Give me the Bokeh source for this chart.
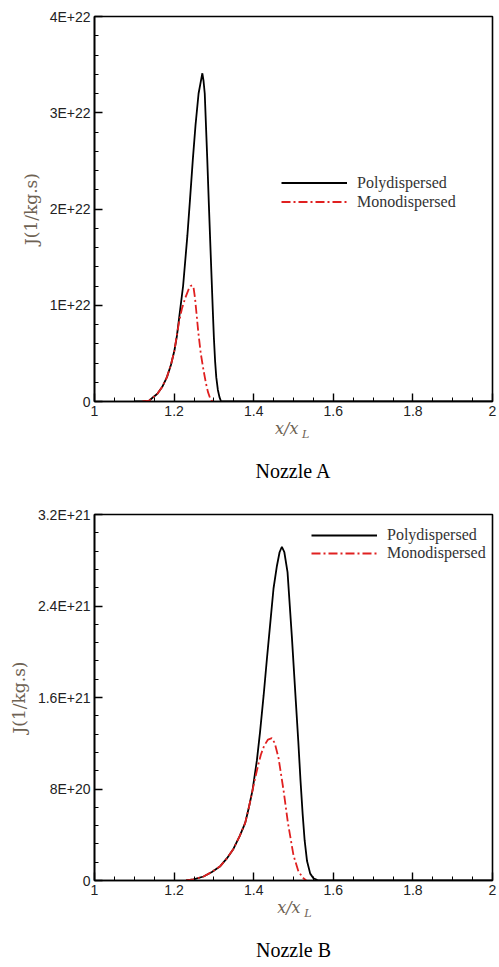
from bokeh.plotting import figure
from bokeh.layouts import column
from bokeh.models import Range1d, FixedTicker, Label, Legend, LegendItem, Title
from bokeh.embed import file_html
from bokeh.resources import INLINE

# Nozzle A: x/xL and J in units of 1E+22
poly_a_x = [1.10, 1.12, 1.1376, 1.158, 1.17, 1.182, 1.192, 1.2008, 1.207, 1.213, 1.2226,
            1.2333, 1.24, 1.247, 1.254, 1.2615, 1.266, 1.271, 1.274, 1.277, 1.2834, 1.2875,
            1.2916, 1.2972, 1.300, 1.303, 1.306, 1.310, 1.314, 1.318, 1.33, 2.0]
poly_a_y = [0.0, 0.0, 0.01, 0.08, 0.15, 0.253, 0.38, 0.53, 0.68, 0.88, 1.20,
            1.72, 2.10, 2.51, 2.88, 3.20, 3.30, 3.41, 3.33, 3.20, 2.51, 2.03,
            1.57, 0.95, 0.66, 0.42, 0.25, 0.12, 0.045, 0.0, 0.0, 0.0]
mono_a_x = [1.12, 1.1376, 1.158, 1.17, 1.182, 1.192, 1.2008, 1.207, 1.213, 1.22, 1.2284,
            1.237, 1.2415, 1.2454, 1.249, 1.2527, 1.2608, 1.267, 1.2737, 1.28, 1.285, 1.29,
            1.294, 1.297]
mono_a_y = [0.0, 0.01, 0.08, 0.15, 0.253, 0.38, 0.53, 0.69, 0.84, 0.97, 1.08,
            1.17, 1.20, 1.206, 1.18, 1.07, 0.72, 0.50, 0.33, 0.19, 0.10, 0.04,
            0.01, 0.0]

# Nozzle B: x/xL and J in units of 1E+21
poly_b_x = [1.23, 1.249, 1.274, 1.295, 1.316, 1.333, 1.349, 1.365, 1.3787, 1.388, 1.397,
            1.408, 1.416, 1.425, 1.433, 1.443, 1.4498, 1.4583, 1.465, 1.4708, 1.477, 1.485,
            1.496, 1.506, 1.512, 1.5175, 1.523, 1.528, 1.534, 1.542, 1.55, 1.56, 1.565, 2.0]
poly_b_y = [0.0, 0.01, 0.035, 0.075, 0.125, 0.195, 0.276, 0.39, 0.504, 0.64, 0.788,
            1.05, 1.30, 1.62, 1.93, 2.30, 2.553, 2.75, 2.87, 2.918, 2.87, 2.696,
            2.126, 1.557, 1.22, 0.88, 0.58, 0.35, 0.17, 0.06, 0.02, 0.003, 0.0, 0.0]
mono_b_x = [1.23, 1.249, 1.274, 1.295, 1.316, 1.333, 1.349, 1.365, 1.3787, 1.388, 1.397,
            1.404, 1.412, 1.418, 1.4264, 1.436, 1.4457, 1.453, 1.4623, 1.475, 1.486,
            1.50, 1.5126, 1.525, 1.532]
mono_b_y = [0.0, 0.01, 0.035, 0.075, 0.125, 0.195, 0.276, 0.39, 0.504, 0.64, 0.788,
            0.90, 1.02, 1.10, 1.18, 1.232, 1.244, 1.20, 1.073, 0.788, 0.504,
            0.219, 0.077, 0.02, 0.0]

x_ticks = [1.0, 1.2, 1.4, 1.6, 1.8, 2.0]
x_labels = ["1", "1.2", "1.4", "1.6", "1.8", "2"]
x_minor = [1 + 0.05 * i for i in range(21)]

ya_ticks = [0, 1, 2, 3, 4]
ya_labels = ["0", "1E+22", "2E+22", "3E+22", "4E+22"]
ya_minor = [0.2 * i for i in range(21)]

yb_ticks = [0, 0.8, 1.6, 2.4, 3.2]
yb_labels = ["0", "8E+20", "1.6E+21", "2.4E+21", "3.2E+21"]
yb_minor = [0.16 * i for i in range(21)]

series_names = ["Polydispersed", "Monodispersed"]
caption_names = ["Nozzle A", "Nozzle B"]

LABEL_COLOR = "#6e6253"
RED = "#e02020"


def make_panel(px, py, mx, my, yticks, ylabels, yminor, ytop, caption, dims, places):
    w, h, bl, br, bt, bb = dims
    p = figure(width=w, height=h, output_backend="svg", toolbar_location=None,
               x_range=Range1d(1, 2), y_range=Range1d(0, ytop),
               min_border_left=bl, min_border_right=br, min_border_top=bt, min_border_bottom=bb)
    p.grid.visible = False
    p.outline_line_color = "black"
    p.outline_line_width = 1.6

    p.xaxis.ticker = FixedTicker(ticks=x_ticks, minor_ticks=x_minor)
    p.xaxis.major_label_overrides = dict(zip(x_ticks, x_labels))
    p.yaxis.ticker = FixedTicker(ticks=yticks, minor_ticks=yminor)
    p.yaxis.major_label_overrides = dict(zip(yticks, ylabels))
    for ax in (p.xaxis[0], p.yaxis[0]):
        ax.axis_line_width = 1.6
        ax.major_tick_in = 8
        ax.major_tick_out = 0
        ax.minor_tick_in = 4
        ax.minor_tick_out = 0
        ax.major_tick_line_width = 1.4
        ax.major_label_text_font = "Liberation Sans"
        ax.major_label_text_font_size = "14px"
        ax.major_label_text_color = "#222222"
        ax.major_label_standoff = 4
    p.yaxis.axis_label = "J(1/kg.s)"
    p.yaxis.axis_label_text_font = "DejaVu Serif"
    p.yaxis.axis_label_text_font_style = "normal"
    p.yaxis.axis_label_text_font_size = "17px"
    p.yaxis.axis_label_text_color = LABEL_COLOR
    p.yaxis.axis_label_standoff = 6

    r1 = p.line(px, py, line_color="black", line_width=1.8)
    r2 = p.line(mx, my, line_color=RED, line_width=1.8, line_dash="9 3 2 3")

    leg_loc, lab_x, row_h, cap_gap = places
    legend = Legend(items=[LegendItem(label=series_names[0], renderers=[r1]),
                           LegendItem(label=series_names[1], renderers=[r2])],
                    location=leg_loc, glyph_width=66, glyph_height=row_h, label_height=row_h,
                    spacing=0, padding=0, margin=0, label_standoff=10,
                    border_line_color=None, background_fill_alpha=0,
                    label_text_font="Liberation Serif", label_text_font_size="16px",
                    label_text_color="#333333")
    p.add_layout(legend, "center")

    # x axis label with subscript, kept in the panel under the axis
    p.add_layout(Label(x=lab_x, y=0, y_units="screen", text="x/x", text_font="DejaVu Serif",
                       text_font_style="italic", text_font_size="16px", text_color=LABEL_COLOR,
                       text_align="left", text_baseline="bottom"), "below")
    p.add_layout(Label(x=lab_x, y=10, y_units="screen", x_offset=27, text="L",
                       text_font="DejaVu Serif", text_font_style="italic", text_font_size="11px",
                       text_color=LABEL_COLOR, text_align="left", text_baseline="bottom"), "below")
    p.add_layout(Title(text=caption, align="center", text_font="Liberation Serif",
                       text_font_size="20px", text_font_style="normal", text_color="black",
                       standoff=cap_gap), "below")
    return p


p1 = make_panel(poly_a_x, poly_a_y, mono_a_x, mono_a_y, ya_ticks, ya_labels, ya_minor, 4,
                caption_names[0], (499, 490, 87, 2, 16, 89),
                ((187, 190), 1.4537, 19, 14))
p2 = make_panel(poly_b_x, poly_b_y, mono_b_x, mono_b_y, yb_ticks, yb_labels, yb_minor, 3.2,
                caption_names[1], (499, 477, 94, 7, 24, 78),
                ((217, 318), 1.459, 18, 14))

layout = column(p1, p2, spacing=0)
open("out.html", "w").write(file_html(layout, INLINE))
